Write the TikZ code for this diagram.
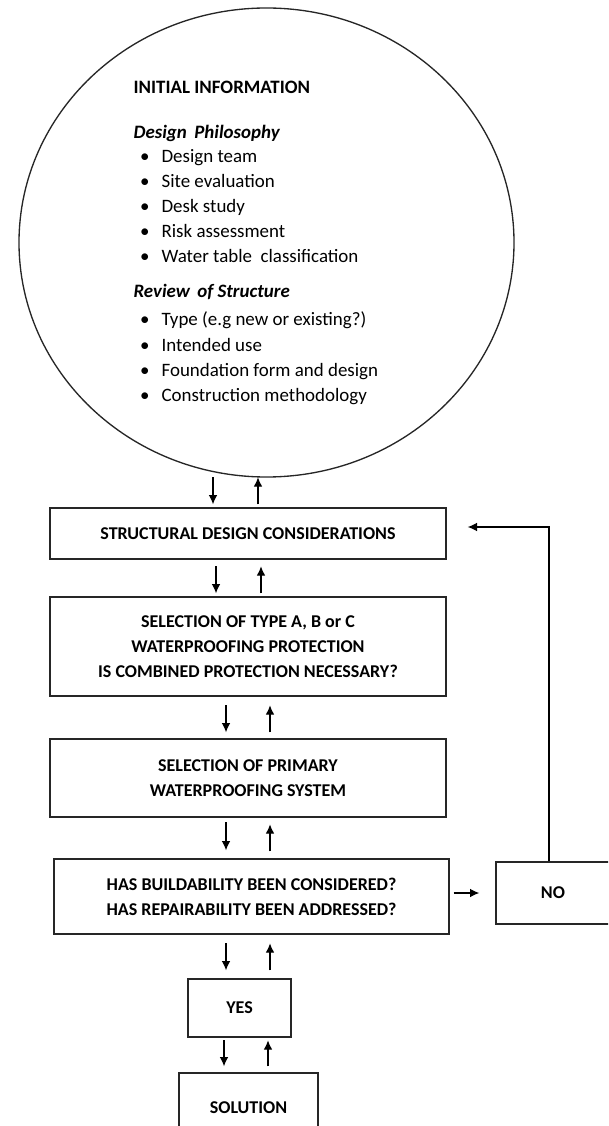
\documentclass[tikz,border=0pt]{standalone}
\usepackage{fontspec}
\setmainfont{Carlito}
\usetikzlibrary{shapes.geometric,arrows.meta,calc}
\begin{document}
\begin{tikzpicture}[x=0.75pt,y=-0.75pt,
  line width=0.9pt,
  boxnode/.style={draw=black!85,line width=1pt,rectangle,inner sep=0pt,align=center,
    font=\fontsize{13.5}{18.75}\selectfont\bfseries},
  ctext/.style={anchor=base west,inner sep=0pt,font=\fontsize{14.2}{18}\selectfont},
  arr/.style={-{Latex[length=7pt,width=6.5pt]},line width=0.9pt}]
\useasboundingbox (0,0) rectangle (608,1126);
\clip (0,0) rectangle (608,1126);
% circle
\node[draw=black!85,line width=1pt,ellipse,inner sep=0pt,minimum width=371.25pt,minimum height=351.75pt] (circ) at (266.5,242.5) {};
\node[ctext,font=\fontsize{14.2}{18}\selectfont\bfseries] (t0) at (133,94) {INITIAL INFORMATION};
\node[ctext,font=\fontsize{14.2}{18}\selectfont\bfseries\itshape] (t1) at (133,139) {Design\, Philosophy};
\node[ctext] (d1) at (161,163) {\llap{\textbullet\hspace{9pt}}Design team};
\node[ctext] (d2) at (161,188) {\llap{\textbullet\hspace{9pt}}Site evaluation};
\node[ctext] (d3) at (161,213) {\llap{\textbullet\hspace{9pt}}Desk study};
\node[ctext] (d4) at (161,238) {\llap{\textbullet\hspace{9pt}}Risk assessment};
\node[ctext] (d5) at (161,263) {\llap{\textbullet\hspace{9pt}}Water table\ \ classification};
\node[ctext,font=\fontsize{14.2}{18}\selectfont\bfseries\itshape] (t2) at (133,298) {Review\, of Structure};
\node[ctext] (r1) at (161,326) {\llap{\textbullet\hspace{9pt}}Type (e.g new or existing?)};
\node[ctext] (r2) at (161,351) {\llap{\textbullet\hspace{9pt}}Intended use};
\node[ctext] (r3) at (161,376) {\llap{\textbullet\hspace{9pt}}Foundation form and design};
\node[ctext] (r4) at (161,401) {\llap{\textbullet\hspace{9pt}}Construction methodology};
% boxes
\node[boxnode,minimum width=297pt,minimum height=38.25pt] (b1) at (248,533.5) {STRUCTURAL DESIGN CONSIDERATIONS};
\node[boxnode,minimum width=297pt,minimum height=74.25pt] (b2) at (248,646.5) {SELECTION OF TYPE A, B or C\\WATERPROOFING PROTECTION\\IS COMBINED PROTECTION NECESSARY?};
\node[boxnode,minimum width=297pt,minimum height=58.5pt] (b3) at (248,778) {SELECTION OF PRIMARY\\WATERPROOFING SYSTEM};
\node[boxnode,minimum width=296.25pt,minimum height=56.25pt] (b4) at (251.5,896.5) {HAS BUILDABILITY BEEN CONSIDERED?\\HAS REPAIRABILITY BEEN ADDRESSED?};
\node[boxnode,minimum width=85.5pt,minimum height=46.5pt] (no) at (553,893) {NO};
\node[boxnode,minimum width=77.25pt,minimum height=43.5pt] (yes) at (239.5,1008) {YES};
\node[boxnode,minimum width=104.25pt,minimum height=52.5pt] (sol) at (248.5,1108) {SOLUTION};
% arrow pairs
\draw[arr] ($(b1.north)+(-35,-30)$) -- ($(b1.north)+(-35,-3)$);
\draw[arr] ($(b1.north)+(10,-3)$) -- ($(b1.north)+(10,-30)$);
\draw[arr] ($(b2.north)+(-32,-30)$) -- ($(b2.north)+(-32,-3)$);
\draw[arr] ($(b2.north)+(13,-3)$) -- ($(b2.north)+(13,-30)$);
\draw[arr] ($(b3.north)+(-22,-33)$) -- ($(b3.north)+(-22,-6)$);
\draw[arr] ($(b3.north)+(22,-6)$) -- ($(b3.north)+(22,-33)$);
\draw[arr] ($(b4.north)+(-25.5,-36)$) -- ($(b4.north)+(-25.5,-8)$);
\draw[arr] ($(b4.north)+(18.5,-7)$) -- ($(b4.north)+(18.5,-34)$);
\draw[arr] ($(yes.north)+(-13.5,-35)$) -- ($(yes.north)+(-13.5,-8)$);
\draw[arr] ($(yes.north)+(30.5,-8)$) -- ($(yes.north)+(30.5,-35)$);
\draw[arr] ($(sol.north)+(-24.5,-32)$) -- ($(sol.north)+(-24.5,-6)$);
\draw[arr] ($(sol.north)+(19.5,-6)$) -- ($(sol.north)+(19.5,-32)$);
% to NO and feedback
\draw[arr] ($(b4.east)+(4,-3.5)$) -- ($(no.west)+(-16,0)$);
\draw[arr] ($(no.north)+(-4,0)$) |- ($(b1.east)+(21,-6.5)$);
\end{tikzpicture}
\end{document}
